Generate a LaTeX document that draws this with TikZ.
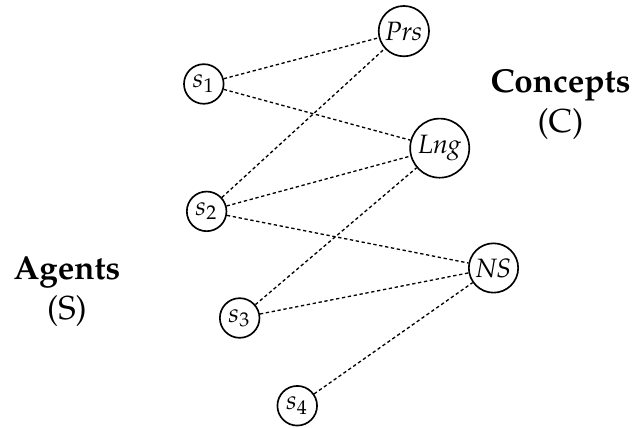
\documentclass[tikz,border=0pt]{standalone}
\usepackage{amsmath}
\usepackage[T1]{fontenc}
\usepackage{mathpazo}
\usepackage{tikz}
\usetikzlibrary{positioning}

\begin{document}
\begin{tikzpicture}[on grid,auto, every node/.style={inner sep=1pt},
	agent/.style={circle,draw,line width=0.5pt,minimum size=0.42cm,font=\footnotesize},
	concept/.style={circle,draw,line width=0.5pt,minimum size=0.46cm,font=\footnotesize},
	link/.style={line width=0.4pt,dash pattern=on 1pt off 0.8pt}]
	\useasboundingbox (-2.16,0.89) rectangle (4.58,-3.64);
	\node[agent] (s_1) {$s_1$};
	\node[agent] (s_2) [below right=1.35cm and 0.03cm of s_1] {$s_2$};
	\node[agent] (s_3) [below right=1.13cm and 0.35cm of s_2] {$s_3$};
	\node[agent] (s_4) [below right=0.93cm and 0.61cm of s_3] {$s_4$};
	\node[concept] (prs) [above right=0.56cm and 2.12cm of s_1] {$\mathit{Prs}$};
	\node[concept] (lng) [below right=1.24cm and 0.38cm of prs] {$\mathit{Lng}$};
	\node[concept] (ns) [below right=1.27cm and 0.57cm of lng] {$\mathit{NS}$};
	\node[align=center] (agents) at (-1.45,-2.2) {\textbf{Agents}\\(S)};
	\node[align=center] (concepts) at (3.78,-0.22) {\textbf{Concepts}\\(C)};
	\path[link]
	(s_1) edge (prs)
	      edge (lng)
	(s_2) edge (prs)
	      edge (lng)
	      edge (ns)
	(s_3) edge (lng)
	      edge (ns)
	(s_4) edge (ns);
\end{tikzpicture}
\end{document}
